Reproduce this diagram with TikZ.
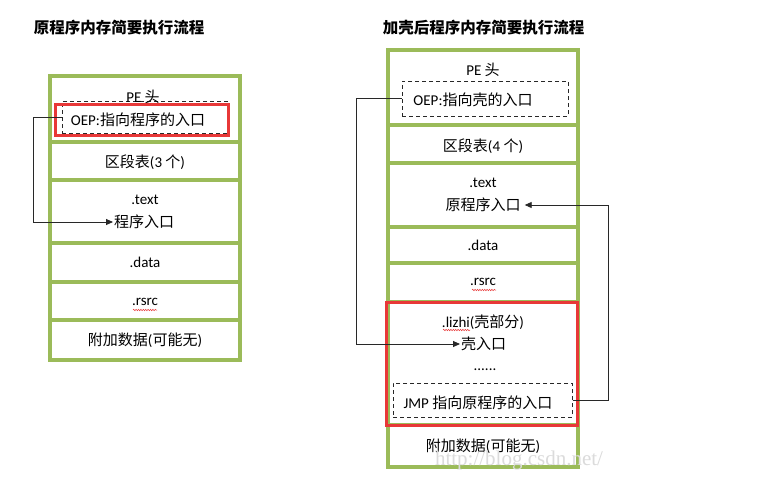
\documentclass[tikz,border=0pt]{standalone}
\usepackage{fontspec}
\setmainfont{Carlito}
\newfontfamily\cjk{Noto Sans CJK SC}
\newfontfamily\wmfont{Liberation Serif}
\usetikzlibrary{arrows.meta,decorations.pathmorphing}
\definecolor{grn}{RGB}{155,187,89}
\definecolor{redb}{RGB}{232,56,56}
\definecolor{linec}{RGB}{40,40,40}
\begin{document}
\begin{tikzpicture}[x=1pt,y=-1pt,
  row/.style={draw=grn, line width=3.5pt, minimum width=190pt, inner sep=0pt, fill=white},
  lbl/.style={font=\fontsize{15}{17}\selectfont, inner sep=1pt},
  ttl/.style={font=\cjk\bfseries\fontsize{15.5}{18}\selectfont, inner sep=0pt},
  dbox/.style={draw=linec, dash pattern=on 4pt off 3pt, line width=1pt, inner sep=0pt},
  rbox/.style={draw=redb, line width=3pt, inner sep=0pt},
  conn/.style={draw=linec, line width=0.9pt, -{Triangle[length=7pt,width=6pt]}},
  squig/.style={draw=redb, line width=0.5pt, decorate, decoration={snake, amplitude=0.7pt, segment length=2.4pt}}
]
\useasboundingbox (0,0) rectangle (773,499);
\fill[white] (0,0) rectangle (773,499);

% titles
\node[ttl] (tl) at (119,28) {原程序内存简要执行流程};
\node[ttl] (tr) at (483.5,28) {加壳后程序内存简要执行流程};

% left stack
\node[row, minimum height=66pt] (l1) at (145,109) {};
\node[row, minimum height=38pt] (l2) at (145,161) {};
\node[row, minimum height=63pt] (l3) at (145,211.5) {};
\node[row, minimum height=39pt] (l4) at (145,262.5) {};
\node[row, minimum height=38pt] (l5) at (145,301) {};
\node[row, minimum height=40pt] (l6) at (145,340) {};

% right stack
\node[row, minimum height=75pt] (r1) at (483,87.5) {};
\node[row, minimum height=38pt] (r2) at (483,144) {};
\node[row, minimum height=64pt] (r3) at (483,195) {};
\node[row, minimum height=36pt] (r4) at (483,245) {};
\node[row, minimum height=39pt] (r5) at (483,282.5) {};
\node[row, minimum height=123pt] (r6) at (483,363.5) {};
\node[row, minimum height=42pt] (r7) at (483,446) {};

% dashed boxes
\node[dbox, minimum width=165pt, minimum height=32pt] (ld) at (144.5,117) {};
\node[dbox, minimum width=166pt, minimum height=35pt] (rd) at (485,98.5) {};
\node[dbox, minimum width=179pt, minimum height=34pt] (jd) at (482.5,400) {};

% red boxes
\node[rbox, minimum width=173pt, minimum height=31pt] (lr) at (141.5,119.5) {};
\node[rbox, minimum width=191pt, minimum height=123pt] (rr) at (481.5,363.5) {};

% left labels
\node[lbl] (lpe) at (143,97) {PE {\cjk 头}};
\node[lbl] (loep) at (138,120) {OEP:{\cjk 指向程序的入口}};
\node[lbl] (lsec) at (145,162) {{\cjk 区段表}(3 {\cjk 个})};
\node[lbl] (ltext) at (145,200) {.text};
\node[lbl, anchor=west] (lentry) at (113,222) {\cjk 程序入口};
\node[lbl] (ldata) at (145,262) {.data};
\node[lbl] (lrsrc) at (145,302) {.rsrc};
\node[lbl] (lextra) at (145,340) {{\cjk 附加数据}({\cjk 可能无})};

% right labels
\node[lbl] (rpe) at (483,70) {PE {\cjk 头}};
\node[lbl] (roep) at (473,100) {OEP:{\cjk 指向壳的入口}};
\node[lbl] (rsec) at (483,146) {{\cjk 区段表}(4 {\cjk 个})};
\node[lbl] (rtext) at (483,183) {.text};
\node[lbl, inner xsep=4pt] (rentry) at (483,205) {\cjk 原程序入口};
\node[lbl] (rdata) at (483,245) {.data};
\node[lbl] (rrsrc) at (483,282) {.rsrc};
\node[lbl] (rlizhi) at (483,322) {.lizhi({\cjk 壳部分})};
\node[lbl, anchor=west] (rshell) at (460,344) {\cjk 壳入口};
\node[lbl] (rdots) at (485,370) {......};
\node[lbl] (rjmp) at (478,403) {JMP {\cjk 指向原程序的入口}};
\node[lbl] (rextra) at (483,446) {{\cjk 附加数据}({\cjk 可能无})};

% spell-check squiggles
\draw[squig] (133,310) -- (157,310);
\draw[squig] (472,290) -- (496,290);
\draw[squig] (443,330) -- (470,330);

% watermark
\node[font=\wmfont\fontsize{21}{24}\selectfont, text=gray!28, inner sep=0pt] (wm) at (519,460) {http://blog.csdn.net/};

% connectors
\coordinate (lbend) at (33,117);
\coordinate (rbend) at (356,98.5);
\coordinate (jbend) at (608,400);
\draw[conn] (ld.west) -- (lbend) |- (lentry.west);
\draw[conn] (rd.west) -- (rbend) |- (rshell.west);
\draw[conn] (jd.east) -- (jbend) |- (rentry.east);
\end{tikzpicture}
\end{document}
